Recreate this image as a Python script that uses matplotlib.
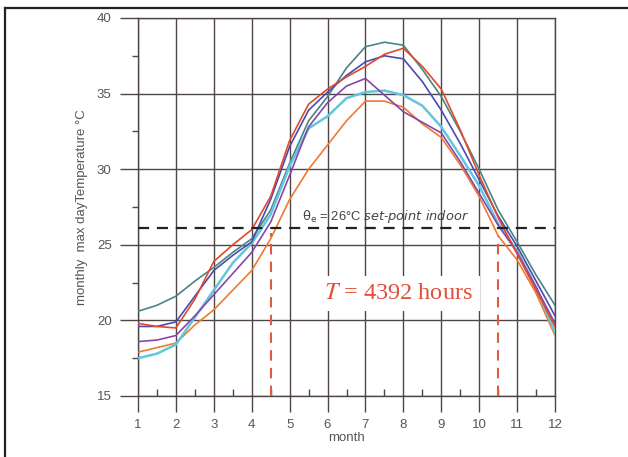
import matplotlib
matplotlib.use("Agg")
import matplotlib.pyplot as plt
from matplotlib.lines import Line2D
from matplotlib.ticker import MultipleLocator

# month positions (half-month steps)
months = [1, 1.5, 2, 2.5, 3, 3.5, 4, 4.5, 5, 5.5, 6, 6.5, 7, 7.5, 8, 8.5, 9, 9.5, 10, 10.5, 11, 11.5, 12]

teal = [20.6, 21.0, 21.6, 22.6, 23.5, 24.5, 25.4, 27.3, 30.4, 33.2, 34.8, 36.7, 38.1, 38.4, 38.2, 36.6, 34.8, 32.5, 30.0, 27.3, 25.2, 23.0, 21.0]
red = [19.8, 19.6, 19.5, 21.4, 23.9, 25.0, 26.0, 28.2, 31.9, 34.3, 35.3, 36.1, 36.8, 37.6, 38.0, 36.8, 35.3, 32.6, 29.6, 26.8, 24.4, 22.0, 19.6]
blue = [19.6, 19.6, 19.9, 21.6, 23.3, 24.3, 25.2, 28.0, 31.5, 33.9, 35.1, 36.2, 37.1, 37.5, 37.3, 35.8, 33.9, 31.7, 29.3, 26.9, 24.9, 22.6, 20.3]
purple = [18.6, 18.7, 19.0, 20.3, 21.7, 23.1, 24.5, 26.5, 29.6, 32.8, 34.4, 35.5, 36.0, 34.9, 33.8, 33.1, 32.4, 30.5, 28.4, 26.3, 24.5, 22.2, 19.8]
cyan = [17.5, 17.8, 18.4, 20.2, 22.0, 23.8, 25.1, 27.0, 30.2, 32.7, 33.5, 34.7, 35.1, 35.2, 34.9, 34.2, 32.8, 30.9, 28.9, 26.4, 24.6, 22.2, 19.2]
orange = [17.9, 18.2, 18.5, 19.7, 20.7, 22.0, 23.3, 25.4, 28.0, 30.0, 31.6, 33.2, 34.5, 34.5, 34.1, 33.0, 32.1, 30.3, 28.2, 25.6, 24.0, 21.8, 19.0]

setpoint = 26.1
cross_months = [4.5, 10.5]
cross_tops = [25.8, 25.6]

series = [
    (teal, "#4a8484", 1.2),
    (orange, "#ef7a30", 1.2),
    (cyan, "#62c6dc", 1.8),
    (purple, "#8846a6", 1.2),
    (blue, "#4a4ab2", 1.2),
    (red, "#df4a2c", 1.2),
]

grid_c = "#4e4646"
text_c = "#555555"

plt.rcParams['font.family'] = ['Liberation Sans', 'DejaVu Sans']

fig = plt.figure(figsize=(6.28, 4.57), dpi=100)
ax = fig.add_axes([138 / 628, 1 - 396 / 457, 417 / 628, 378 / 457])

ax.set_xlim(1, 12)
ax.set_ylim(15, 40)
ax.xaxis.set_major_locator(MultipleLocator(1))
ax.xaxis.set_minor_locator(MultipleLocator(0.5))
ax.yaxis.set_major_locator(MultipleLocator(5))
ax.yaxis.set_minor_locator(MultipleLocator(2.5))

ax.grid(True, which='major', color=grid_c, linewidth=1.0)
for s in ax.spines.values():
    s.set_color(grid_c)
    s.set_linewidth(1.0)

ax.tick_params(axis='x', which='major', direction='out', length=11.5, width=1.0,
               color=grid_c, labelcolor=text_c, labelsize=9.5, pad=5)
ax.tick_params(axis='x', which='minor', direction='in', length=5, width=1.0, color=grid_c)
ax.tick_params(axis='y', which='major', direction='out', length=13, width=1.0,
               color=grid_c, labelcolor=text_c, labelsize=9.5, pad=6)
ax.tick_params(axis='y', which='minor', direction='out', length=4.5, width=1.0, color=grid_c)

ax.set_xlabel("month", color=text_c, fontsize=9.5, labelpad=1)
ax.set_ylabel("monthly  max dayTemperature °C", color=text_c, fontsize=9.5, labelpad=6)

for vals, col, lw in series:
    ax.plot(months, vals, color=col, linewidth=lw, zorder=3)

ax.axhline(setpoint, color="#222222", linewidth=1.6, linestyle=(0, (5, 3.5)), zorder=4)
for m, top in zip(cross_months, cross_tops):
    ax.plot([m, m], [15, top], color="#e05a44", linewidth=1.5, linestyle=(0, (5, 3.5)), zorder=4)

ax.text(5.33, 26.85, r'$\mathrm{\theta_e}$ = 26°C $\mathit{set}$-$\mathit{point\ indoor}$',
        color="#444444", fontsize=9.4, va='center', ha='left', zorder=5)
ax.text(5.9, 21.8, r'$T$ = 4392 hours', color="#e0503c", fontsize=17.5,
        family='Liberation Serif', math_fontfamily='stix', va='center', ha='left', zorder=5,
        bbox=dict(facecolor='white', edgecolor='none', pad=5))

# outer frame of the original picture
fig.add_artist(Line2D([4.5 / 628, 1], [1 - 7.5 / 457, 1 - 7.5 / 457], color="#222222", linewidth=1.6))
fig.add_artist(Line2D([4.5 / 628, 4.5 / 628], [0, 1 - 7.5 / 457], color="#222222", linewidth=1.6))

fig.savefig("out.png", dpi=100)
